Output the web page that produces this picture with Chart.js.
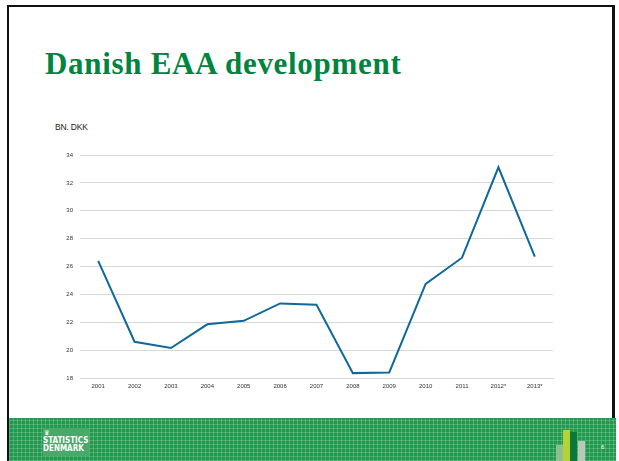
<!DOCTYPE html>
<html>
<head>
<meta charset="utf-8">
<script src="https://cdn.jsdelivr.net/npm/chart.js@4.4.0/dist/chart.umd.min.js"></script>
<style>
  html, body { margin: 0; padding: 0; background: #fff; }
  body { width: 619px; height: 461px; position: relative; overflow: hidden; font-family: "Liberation Sans", Arial, sans-serif; }
  .frame { position: absolute; left: 7px; top: 5px; width: 608px; height: 470px; border: 2px solid #111; border-right: 3px solid #111; box-sizing: border-box; }
  .title { position: absolute; left: 45px; top: 46px; font-family: "Liberation Serif", "DejaVu Serif", serif; font-weight: bold; font-size: 31px; letter-spacing: 0.7px; color: #00853f; white-space: nowrap; }
  .unit { position: absolute; left: 55px; top: 122px; font-size: 8.5px; color: #222; letter-spacing: -0.2px; }
  .chart-box { position: absolute; left: 40px; top: 140px; width: 520px; height: 255px; }
  .footer { position: absolute; left: 9px; top: 418px; width: 607px; height: 43px; background-color: #1f9a4e;
    background-image:
      repeating-linear-gradient(90deg, rgba(255,255,255,0.18) 0 1px, transparent 1px 4px),
      repeating-linear-gradient(0deg, rgba(255,255,255,0.18) 0 1px, transparent 1px 4px); }
  .logo { position: absolute; left: 34px; top: 10px; width: 46px; height: 28px; background: #47a96a; color: #fff; font-family: "DejaVu Sans Condensed", "Liberation Sans Narrow", sans-serif; font-weight: bold; font-size: 8px; line-height: 8px; padding-top: 1px; box-sizing: border-box; }
  .logo .crown { font-size: 7px; line-height: 8px; margin-left: 1px; }
  .bars div { position: absolute; bottom: 0; width: 7px; }
  .pagenum { position: absolute; left: 592px; top: 26px; font-size: 6px; color: #fff; }
</style>
</head>
<body>
<div class="frame"></div>
<div class="title">Danish EAA development</div>
<div class="unit">BN. DKK</div>
<div class="chart-box"><canvas id="eaa-chart" width="520" height="255"></canvas></div>
<div class="footer">
  <div class="logo"><div class="crown">&#9819;</div>STATISTICS<br>DENMARK</div>
  <div class="bars">
    <div style="left:547px;height:16px;background:#8fbf8f;"></div>
    <div style="left:554px;height:31px;background:#b5d334;"></div>
    <div style="left:561px;height:29px;background:#0a7a36;"></div>
    <div style="left:569px;height:20px;background:#b9c9b9;"></div>
  </div>
  <div class="pagenum">6</div>
</div>
<script>
const years = ['2001', '2002', '2003', '2004', '2005', '2006', '2007', '2008', '2009', '2010', '2011', '2012*', '2013*'];
const eaaValues = [26.4, 20.6, 20.15, 21.85, 22.1, 23.35, 23.25, 18.35, 18.4, 24.75, 26.63, 33.12, 26.7];
const yTicks = [18, 20, 22, 24, 26, 28, 30, 32, 34];

const ctx = document.getElementById('eaa-chart').getContext('2d');
new Chart(ctx, {
    type: 'line',
    data: {
        labels: years,
        datasets: [{
            label: 'EAA',
            data: eaaValues,
            borderColor: '#11689a',
            borderWidth: 2,
            pointRadius: 0,
            tension: 0,
            fill: false
        }]
    },
    options: {
        responsive: false,
        animation: false,
        layout: { padding: { top: 15, right: 7, bottom: 0, left: 0 } },
        plugins: {
            legend: { display: false },
            tooltip: { enabled: false }
        },
        scales: {
            x: {
                offset: true,
                grid: { display: false, drawTicks: false },
                border: { display: true, color: '#d9d9d9', width: 1 },
                ticks: { color: '#333', font: { size: 6, family: 'Liberation Sans' }, padding: 5, maxRotation: 0, autoSkip: false },
                afterFit: (scale) => { scale.height = 17; }
            },
            y: {
                min: 18,
                max: 34,
                afterBuildTicks: (scale) => { scale.ticks = yTicks.map(v => ({ value: v })); },
                grid: { color: '#d9d9d9', lineWidth: 1, drawTicks: false },
                border: { display: false },
                ticks: { color: '#333', font: { size: 6, family: 'Liberation Sans' }, padding: 7 },
                afterFit: (scale) => { scale.width = 40; }
            }
        }
    }
});
</script>
</body>
</html>
